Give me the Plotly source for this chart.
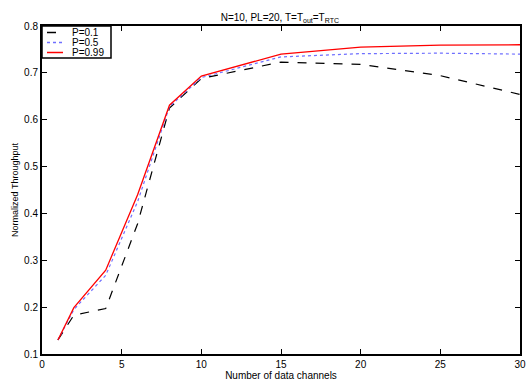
import plotly.graph_objects as go

channels = [1, 2, 4, 6, 8, 10, 15, 20, 25, 30]
p01 = [0.130, 0.183, 0.197, 0.378, 0.625, 0.688, 0.723, 0.718, 0.694, 0.654]
p05 = [0.130, 0.195, 0.268, 0.425, 0.628, 0.690, 0.734, 0.741, 0.742, 0.740]
p099 = [0.130, 0.199, 0.279, 0.440, 0.631, 0.693, 0.740, 0.755, 0.759, 0.760]

names = ["P=0.1", "P=0.5", "P=0.99"]
colors = ["black", "#6f6fff", "red"]
dashes = ["dash", "dot", "solid"]
widths = [1.2, 1.2, 1.3]
series = [p01, p05, p099]

FONT = "Liberation Sans, Arial"

fig = go.Figure()
for nm, ys, c, d, w in zip(names, series, colors, dashes, widths):
    fig.add_trace(go.Scatter(x=channels, y=ys, mode="lines", name=nm, showlegend=False,
                             line=dict(color=c, width=w, dash=d)))

axis_common = dict(showline=True, linecolor="black", linewidth=2, mirror="ticks",
                   ticks="inside", ticklen=5, tickcolor="black", tickwidth=1,
                   showgrid=False, zeroline=False, automargin=False,
                   tickfont=dict(family=FONT, size=10, color="black"))

# plot area in pixels: left 42, right 520, top 26, bottom 354
PW, PH = 478.0, 328.0

# manual legend (box, samples, labels) in paper coordinates
box_w, box_h = 69.0, 32.0
shapes = [dict(type="rect", xref="paper", yref="paper",
               x0=0, x1=box_w / PW, y0=1 - box_h / PH, y1=1,
               line=dict(color="black", width=1.5), fillcolor="white", layer="above")]
annotations = []
row_y = [6.5, 16.5, 26.5]
for i, nm in enumerate(names):
    yp = 1 - row_y[i] / PH
    shapes.append(dict(type="line", xref="paper", yref="paper",
                       x0=5 / PW, x1=21 / PW, y0=yp, y1=yp, layer="above",
                       line=dict(color=colors[i], width=1.5, dash=dashes[i])))
    annotations.append(dict(text=nm, xref="paper", yref="paper", x=28 / PW, y=yp,
                            xanchor="left", yanchor="middle", showarrow=False,
                            font=dict(family=FONT, size=10, color="black")))

fig.update_layout(
    width=531, height=383,
    margin=dict(l=42, r=11, t=26, b=29, autoexpand=False),
    paper_bgcolor="white", plot_bgcolor="white",
    title=dict(text="N=10, PL=20, T=T<sub>out</sub>=T<sub>RTC</sub>",
               x=0.527, xanchor="center", y=0.955, yanchor="middle",
               font=dict(family=FONT, size=10, color="black")),
    xaxis=dict(range=[0, 30], tickvals=[0, 5, 10, 15, 20, 25, 30],
               title=dict(text="Number of data channels", standoff=1,
                          font=dict(family=FONT, size=10, color="black")),
               **axis_common),
    yaxis=dict(range=[0.1, 0.8], tickvals=[0.1, 0.2, 0.3, 0.4, 0.5, 0.6, 0.7, 0.8],
               tickformat=".1f",
               title=dict(text="Normalized Throughput", standoff=4,
                          font=dict(family=FONT, size=9, color="black")),
               **axis_common),
    shapes=shapes,
    annotations=annotations,
    showlegend=False,
)

fig.write_html("out.html")
